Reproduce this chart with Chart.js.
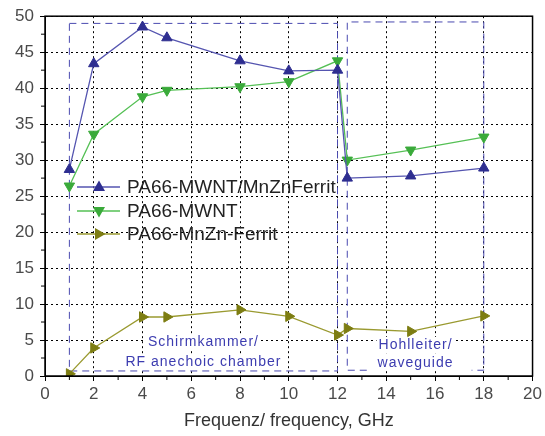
<!DOCTYPE html>
<html>
<head>
<meta charset="utf-8">
<script src="https://cdn.jsdelivr.net/npm/chart.js@4.4.0/dist/chart.umd.min.js"></script>
<style>
  html, body { margin: 0; padding: 0; background: #fff; }
  #wrap { width: 545px; height: 436px; }
</style>
</head>
<body>
<div id="wrap"><canvas id="emiChart" width="545" height="436"></canvas></div>
<script>
// --- DATA ---
const freqs = [1, 2, 4, 5, 8, 10, 12, 12.4, 15, 18];
const mwntFerrit = [28.7, 43.4, 48.5, 47.0, 43.8, 42.4, 42.5, 27.5, 27.8, 28.9];
const mwnt = [26.4, 33.6, 38.8, 39.7, 40.2, 40.9, 43.8, 30.0, 31.4, 33.2];
const ferrit = [0.3, 3.9, 8.2, 8.2, 9.2, 8.3, 5.7, 6.6, 6.2, 8.35];

const seriesNames = ['PA66-MWNT/MnZnFerrit', 'PA66-MWNT', 'PA66-MnZn-Ferrit'];

// measurement ranges (x from/to in GHz, y from/to in dB)
const rangeX = [[1, 12], [12.4, 18]];
const rangeY = [[0.7, 49], [0.8, 49.2]];
const rangeLabels = [['Schirmkammer/', 'RF anechoic chamber'], ['Hohlleiter/', 'waveguide']];
const rangeLabelX = [6.5, 15.2];

const xTicks = [0, 2, 4, 6, 8, 10, 12, 14, 16, 18, 20];
const yTicks = [0, 5, 10, 15, 20, 25, 30, 35, 40, 45, 50];

const toPoints = ys => ys.map((y, i) => ({ x: freqs[i], y: y }));

const styles = [
    { line: '#5555b0', point: '#2e2e90', style: 'triangle', rot: 0 },
    { line: '#55c055', point: '#3aaa3a', style: 'triangle', rot: 180 },
    { line: '#9a9a30', point: '#7d7d12', style: 'triangle', rot: 90 }
];
const seriesData = [mwntFerrit, mwnt, ferrit];

// --- PLUGIN: boxes, notes, legend, frame, minor ticks ---
const extras = {
    id: 'extras',
    beforeDatasetsDraw(chart) {
        const { ctx, scales: { x, y } } = chart;
        ctx.save();
        // notes (white backing so the grid doesn't run through them)
        ctx.font = '14px "Liberation Sans", Arial, sans-serif';
        ctx.textAlign = 'center';
        ctx.textBaseline = 'middle';
        if ('letterSpacing' in ctx) ctx.letterSpacing = '1px';
        const notePos = [];
        rangeLabels.forEach((lines, i) => {
            const cx = x.getPixelForValue(rangeLabelX[i]);
            const ys = i === 0 ? [342, 362] : [345, 363];
            lines.forEach((t, j) => {
                const w = ctx.measureText(t).width;
                ctx.fillStyle = '#fff';
                ctx.fillRect(cx - w / 2 - 2, ys[j] - 8, w + 4, 16);
                notePos.push([t, cx, ys[j]]);
            });
        });
        ctx.fillStyle = '#3c3cb0';
        notePos.forEach(n => ctx.fillText(n[0], n[1], n[2]));
        if ('letterSpacing' in ctx) ctx.letterSpacing = '0px';

        // dashed range boxes
        ctx.strokeStyle = '#4a4ab0';
        ctx.lineWidth = 1;
        ctx.setLineDash([7, 5]);
        rangeX.forEach((rx, i) => {
            const x0 = x.getPixelForValue(rx[0]), x1 = x.getPixelForValue(rx[1]);
            const y0 = y.getPixelForValue(rangeY[i][0]), y1 = y.getPixelForValue(rangeY[i][1]);
            ctx.beginPath();
            if (i === 0) {
                ctx.rect(x0, y1, x1 - x0, y0 - y1);
            } else {
                // bottom edge broken by the note text
                ctx.moveTo(x.getPixelForValue(13.2), y0);
                ctx.lineTo(x0, y0);
                ctx.lineTo(x0, y1);
                ctx.lineTo(x1, y1);
                ctx.lineTo(x1, y0);
                ctx.lineTo(x.getPixelForValue(17.5), y0);
            }
            ctx.stroke();
        });
        ctx.restore();
    },
    afterDraw(chart) {
        const { ctx, chartArea: a, scales: { x, y } } = chart;
        ctx.save();
        // frame
        ctx.strokeStyle = '#000';
        ctx.lineWidth = 1.5;
        ctx.strokeRect(a.left, a.top, a.right - a.left, a.bottom - a.top);
        // minor ticks
        ctx.lineWidth = 1;
        ctx.beginPath();
        for (let v = 1; v < 20; v += 2) {
            const px = x.getPixelForValue(v);
            ctx.moveTo(px, a.bottom); ctx.lineTo(px, a.bottom + 4);
        }
        for (let v = 2.5; v < 50; v += 5) {
            const py = y.getPixelForValue(v);
            ctx.moveTo(a.left, py); ctx.lineTo(a.left - 4, py);
        }
        ctx.stroke();
        // legend
        const rows = [187, 211, 234];
        ctx.font = '19px "Liberation Sans", Arial, sans-serif';
        ctx.textAlign = 'left';
        ctx.textBaseline = 'middle';
        seriesNames.forEach((name, i) => {
            const s = styles[i];
            const ly = rows[i];
            ctx.strokeStyle = s.line;
            ctx.lineWidth = 1.3;
            ctx.beginPath();
            ctx.moveTo(77, ly); ctx.lineTo(120, ly);
            ctx.stroke();
            ctx.save();
            ctx.translate(99, ly);
            ctx.rotate(s.rot * Math.PI / 180);
            ctx.fillStyle = s.point;
            ctx.beginPath();
            ctx.moveTo(0, -6.5); ctx.lineTo(6, 4); ctx.lineTo(-6, 4);
            ctx.closePath();
            ctx.fill();
            ctx.restore();
            ctx.fillStyle = '#222';
            ctx.fillText(name, 127, ly + 1);
        });
        ctx.restore();
    }
};

const datasets = seriesData.map((ys, i) => ({
    label: seriesNames[i],
    data: toPoints(ys),
    showLine: true,
    borderColor: styles[i].line,
    borderWidth: 1.3,
    backgroundColor: styles[i].point,
    pointBackgroundColor: styles[i].point,
    pointBorderColor: styles[i].point,
    pointStyle: styles[i].style,
    pointRotation: styles[i].rot,
    pointRadius: 6,
    pointBorderWidth: 1,
    tension: 0
}));

const tickFont = { family: '"Liberation Sans", Arial, sans-serif', size: 17 };

const config = {
    type: 'scatter',
    data: { datasets: datasets },
    options: {
        responsive: false,
        animation: false,
        layout: { padding: { top: 15, right: 12, left: 0, bottom: 0 } },
        plugins: {
            legend: { display: false },
            tooltip: { enabled: false }
        },
        scales: {
            x: {
                type: 'linear',
                min: 0, max: 20,
                afterBuildTicks: s => { s.ticks = xTicks.map(v => ({ value: v })); },
                afterFit: s => { s.height = 60; },
                ticks: { color: '#4a4a4a', font: tickFont, padding: 3 },
                grid: { color: '#000', lineWidth: 1, tickLength: 5, tickColor: '#000' },
                border: { display: true, color: '#000', dash: [2, 3] },
                title: {
                    display: true,
                    text: 'Frequenz/ frequency, GHz',
                    color: '#333',
                    font: { family: '"Liberation Sans", Arial, sans-serif', size: 18 },
                    padding: { top: 4 }
                }
            },
            y: {
                min: 0, max: 50,
                afterBuildTicks: s => { s.ticks = yTicks.map(v => ({ value: v })); },
                afterFit: s => { s.width = 45; },
                ticks: { color: '#4a4a4a', font: tickFont, padding: 6 },
                grid: { color: '#000', lineWidth: 1, tickLength: 5, tickColor: '#000' },
                border: { display: true, color: '#000', dash: [2, 3] }
            }
        }
    },
    plugins: [extras]
};

window.onload = () => {
    const ctx = document.getElementById('emiChart').getContext('2d');
    new Chart(ctx, config);
};
</script>
</body>
</html>
